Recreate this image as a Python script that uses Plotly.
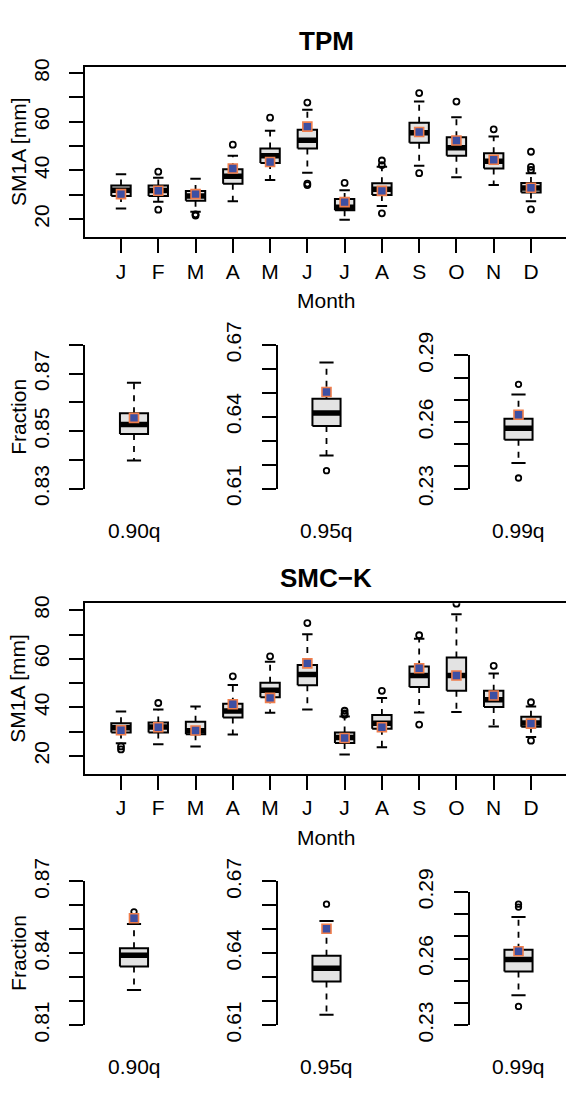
import plotly.graph_objects as go

W, H = 566, 1096
FONT = "Liberation Sans"
BOX_FILL = "#E3E3E3"
SQ_FILL = "#3D4FA3"
SQ_LINE = "#F07E4C"

# ---------------- data ----------------
months = ["J", "F", "M", "A", "M", "J", "J", "A", "S", "O", "N", "D"]

tpm_lo  = [24.4, 27.2, 23.0, 27.4, 36.1, 39.1, 19.8, 25.4, 41.9, 37.2, 34.0, 27.4]
tpm_q1  = [29.5, 29.5, 27.6, 34.5, 43.1, 49.0, 23.7, 29.9, 51.4, 46.1, 40.8, 31.0]
tpm_med = [31.9, 31.8, 29.5, 37.6, 46.1, 52.4, 24.9, 32.3, 55.5, 49.3, 43.8, 32.8]
tpm_q3  = [33.8, 33.8, 31.6, 40.5, 49.0, 56.7, 28.3, 34.8, 59.6, 53.6, 47.1, 34.9]
tpm_hi  = [38.5, 37.0, 36.6, 46.1, 56.3, 64.9, 31.9, 41.5, 68.3, 61.9, 54.0, 38.9]
tpm_out = [[], [39.5, 23.9], [22.0, 21.5], [50.6], [61.7], [67.9, 34.6, 34.0],
           [34.9], [44.1, 42.2, 22.4], [71.8, 38.9], [68.3], [56.9],
           [47.7, 41.5, 40.2, 24.0]]
tpm_obs = [30.3, 31.7, 30.3, 40.8, 43.5, 58.0, 27.0, 31.6, 55.8, 52.3, 44.4, 32.9]

smc_lo  = [25.2, 24.8, 23.9, 28.8, 37.8, 39.1, 20.6, 23.6, 37.9, 38.1, 32.1, 27.8]
smc_q1  = [29.6, 29.6, 28.9, 35.8, 44.2, 49.1, 25.3, 31.2, 48.4, 46.8, 40.2, 32.0]
smc_med = [31.6, 31.9, 30.4, 38.5, 47.0, 53.5, 27.6, 33.5, 53.1, 53.1, 43.1, 33.6]
smc_q3  = [33.5, 33.8, 34.1, 41.5, 50.1, 57.4, 29.6, 36.9, 56.8, 60.5, 46.8, 36.1]
smc_hi  = [38.3, 39.1, 40.4, 49.2, 58.8, 70.1, 36.2, 43.9, 68.3, 78.3, 53.9, 40.4]
smc_out = [[23.9, 22.7], [41.8], [], [52.8], [61.0], [74.7], [38.6, 37.5, 37.0],
           [46.8], [69.7, 32.9], [82.7], [57.1], [42.1, 26.3]]
smc_obs = [30.6, 31.8, 30.5, 41.3, 43.9, 58.1, 27.4, 31.8, 56.1, 53.1, 44.9, 33.3]

quant_labels = ["0.90q", "0.95q", "0.99q"]
# fraction panels: [lo, q1, med, q3, hi]
tpm_frac_stats = [[0.8398, 0.8490, 0.8523, 0.8562, 0.8668],
                  [0.6238, 0.6361, 0.6416, 0.6475, 0.6626],
                  [0.2416, 0.2520, 0.2572, 0.2615, 0.2724]]
tpm_frac_out = [[], [0.6175], [0.2770, 0.2348]]
tpm_frac_obs = [0.8546, 0.6503, 0.2633]

smc_frac_stats = [[0.8246, 0.8345, 0.8392, 0.8421, 0.8522],
                  [0.6143, 0.6282, 0.6337, 0.6390, 0.6535],
                  [0.2434, 0.2542, 0.2596, 0.2640, 0.2787]]
smc_frac_out = [[0.8573], [0.6605], [0.2845, 0.2832, 0.2384]]
smc_frac_obs = [0.8546, 0.6502, 0.2633]

tpm_frac_ticks = [[0.83, 0.84, 0.85, 0.86, 0.87, 0.88],
                  [0.61, 0.62, 0.63, 0.64, 0.65, 0.66, 0.67],
                  [0.23, 0.24, 0.25, 0.26, 0.27, 0.28, 0.29]]
tpm_frac_labels = [["0.83", "", "0.85", "", "0.87", ""],
                   ["0.61", "", "", "0.64", "", "", "0.67"],
                   ["0.23", "", "", "0.26", "", "", "0.29"]]
smc_frac_ticks = [[0.81, 0.82, 0.83, 0.84, 0.85, 0.86, 0.87],
                  [0.61, 0.62, 0.63, 0.64, 0.65, 0.66, 0.67],
                  [0.23, 0.24, 0.25, 0.26, 0.27, 0.28, 0.29]]
smc_frac_labels = [["0.81", "", "", "0.84", "", "", "0.87"],
                   ["0.61", "", "", "0.64", "", "", "0.67"],
                   ["0.23", "", "", "0.26", "", "", "0.29"]]

month_yticks = [20, 30, 40, 50, 60, 70, 80]
month_ylabels = ["20", "", "40", "", "60", "", "80"]

# ---------------- helpers ----------------
def xd(a, b):
    return [max(0, a / W), min(1, b / W)]

def yd(top, bottom):
    return [1 - bottom / H, 1 - top / H]

fig = go.Figure()

def add_boxes(xs, lo, q1, med, q3, hi, outs, obs, hw, sw, ax, msize):
    xr, yr = ("x" + ax, "y" + ax) if ax != "1" else ("x", "y")
    wx, wy, sx, sy, bx, by, mx, my, ox, oy = [], [], [], [], [], [], [], [], [], []
    for i, x in enumerate(xs):
        wx += [x, x, None, x, x, None]
        wy += [q3[i], hi[i], None, q1[i], lo[i], None]
        sx += [x - sw, x + sw, None, x - sw, x + sw, None]
        sy += [hi[i], hi[i], None, lo[i], lo[i], None]
        bx += [x - hw, x + hw, x + hw, x - hw, x - hw, None]
        by += [q1[i], q1[i], q3[i], q3[i], q1[i], None]
        mx += [x - hw, x + hw, None]
        my += [med[i], med[i], None]
        for v in outs[i]:
            ox.append(x)
            oy.append(v)
    common = dict(xaxis=xr, yaxis=yr, showlegend=False, hoverinfo="skip")
    fig.add_trace(go.Scatter(x=wx, y=wy, mode="lines",
                             line=dict(color="black", width=1.8, dash="6px,6px"), **common))
    fig.add_trace(go.Scatter(x=sx, y=sy, mode="lines",
                             line=dict(color="black", width=2), **common))
    fig.add_trace(go.Scatter(x=bx, y=by, mode="lines", fill="toself", fillcolor=BOX_FILL,
                             line=dict(color="black", width=2), **common))
    fig.add_trace(go.Scatter(x=mx, y=my, mode="lines",
                             line=dict(color="black", width=5.5), **common))
    fig.add_trace(go.Scatter(x=ox, y=oy, mode="markers",
                             marker=dict(symbol="circle-open", size=msize, color="black",
                                         line=dict(width=1.8, color="black")), **common))
    fig.add_trace(go.Scatter(x=xs, y=obs, mode="markers",
                             marker=dict(symbol="square", size=9, color=SQ_FILL,
                                         line=dict(width=1.6, color=SQ_LINE)), **common))

FS = 21
tick_font = dict(family=FONT, size=FS, color="black")
layout = {}

# month panels
mx_pos = list(range(1, 13))
for ax, (top, bot, yrange, dat) in zip(
        ["1", "2"],
        [(44.7, 221.7, [12.5, 82.5], (tpm_lo, tpm_q1, tpm_med, tpm_q3, tpm_hi, tpm_out, tpm_obs)),
         (601.7, 779.3, [12.5, 82.9], (smc_lo, smc_q1, smc_med, smc_q3, smc_hi, smc_out, smc_obs))]):
    add_boxes(mx_pos, *dat, hw=0.26, sw=0.14, ax=ax, msize=6)
    xk = "xaxis" if ax == "1" else "xaxis" + ax
    yk = "yaxis" if ax == "1" else "yaxis" + ax
    layout[xk] = dict(domain=xd(85, 566), range=[0.034, 12.94], anchor="y" if ax == "1" else "y" + ax,
                      showline=True, linecolor="black", linewidth=2, mirror=True,
                      ticks="outside", ticklen=14, tickwidth=2, tickcolor="black",
                      tickvals=mx_pos, ticktext=months, tickfont=tick_font,
                      ticklabelstandoff=0, showgrid=False, zeroline=False)
    layout[yk] = dict(domain=yd(top, bot), range=yrange, anchor="x" if ax == "1" else "x" + ax,
                      showline=True, linecolor="black", linewidth=2,
                      ticks="outside", ticklen=14, tickwidth=2, tickcolor="black",
                      tickvals=month_yticks, ticktext=month_ylabels, tickangle=-90,
                      tickfont=tick_font, ticklabelstandoff=12,
                      showgrid=False, zeroline=False)

# fraction panels
panel_x = [(85, 183), (277.5, 375.5), (469.5, 566)]
rows = [
    dict(tops=[333.3, 333.3, 344.3], bottom=482.7, stats=tpm_frac_stats, outs=tpm_frac_out,
         obs=tpm_frac_obs, ticks=tpm_frac_ticks, labels=tpm_frac_labels),
    dict(tops=[890.7, 890.7, 901.7], bottom=1040.0, stats=smc_frac_stats, outs=smc_frac_out,
         obs=smc_frac_obs, ticks=smc_frac_ticks, labels=smc_frac_labels),
]
axn = 3
px_per_unit = 98 / 1.08
for row in rows:
    for j in range(3):
        ax = str(axn)
        s = row["stats"][j]
        add_boxes([1], [s[0]], [s[1]], [s[2]], [s[3]], [s[4]], [row["outs"][j]], [row["obs"][j]],
                  hw=0.155, sw=0.078, ax=ax, msize=5.5)
        x0, x1 = panel_x[j]
        t = row["ticks"][j]
        layout["xaxis" + ax] = dict(domain=xd(x0, x1), range=[0.46, 0.46 + (x1 - x0) / px_per_unit],
                                    anchor="y" + ax, visible=False)
        layout["yaxis" + ax] = dict(domain=yd(row["tops"][j], row["bottom"]), range=[t[0], t[-1]],
                                    anchor="x" + ax, showline=True, linecolor="black", linewidth=2,
                                    ticks="outside", ticklen=14, tickwidth=2, tickcolor="black",
                                    tickvals=t, ticktext=row["labels"][j], tickangle=-90,
                                    tickfont=tick_font, ticklabelstandoff=12,
                                    showgrid=False, zeroline=False)
        axn += 1

def ann(text, x, y, size=FS, bold=False, angle=0):
    return dict(text=("<b>%s</b>" % text) if bold else text, x=x / W, y=1 - y / H,
                xref="paper", yref="paper", xanchor="center", yanchor="middle",
                showarrow=False, textangle=angle, font=dict(family=FONT, size=size, color="black"))

annotations = [
    ann("TPM", 326, 18, size=26, bold=True),
    ann("SMC\u2212K", 326, 576, size=26, bold=True),
    ann("Month", 326, 287.5),
    ann("Month", 326, 845.5),
    ann("SM1A [mm]", 18, 133, angle=-90),
    ann("SM1A [mm]", 18, 690.5, angle=-90),
    ann("Fraction", 19, 408, angle=-90),
    ann("Fraction", 19, 965, angle=-90),
]
for j, lab in enumerate(quant_labels):
    cx = panel_x[j][0] + 0.54 * px_per_unit
    annotations.append(ann(lab, cx, 526))
    annotations.append(ann(lab, cx, 1083.5))

fig.update_layout(width=W, height=H, margin=dict(l=0, r=0, t=0, b=0),
                  paper_bgcolor="white", plot_bgcolor="white",
                  font=dict(family=FONT, color="black"), annotations=annotations, **layout)

fig.write_html("out.html")
